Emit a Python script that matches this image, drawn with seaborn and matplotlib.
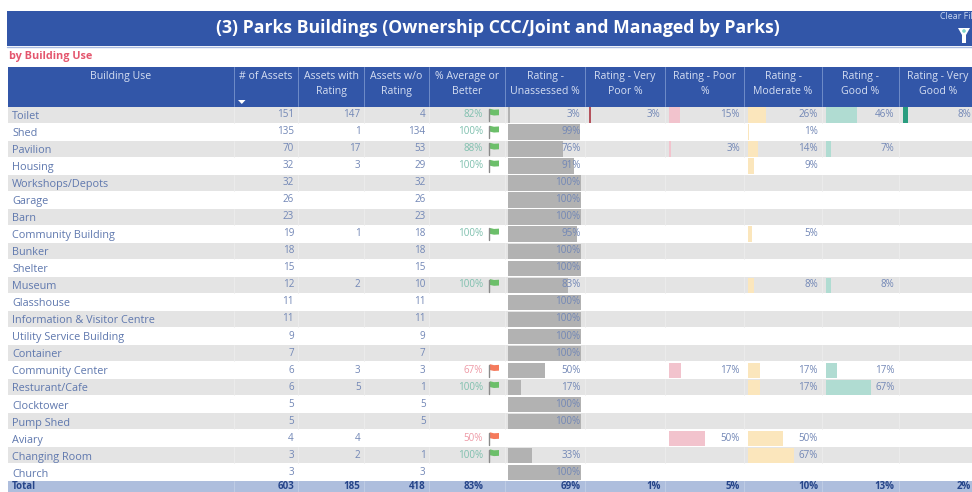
import numpy as np
import pandas as pd
import matplotlib
matplotlib.use("Agg")
import matplotlib.pyplot as plt
from matplotlib.patches import Rectangle, Polygon, Circle
import seaborn as sns

sns.set_theme(style="white")
plt.rcParams['font.family'] = ['Open Sans', 'DejaVu Sans']

nan = float('nan')

building_use = ["Toilet", "Shed", "Pavilion", "Housing", "Workshops/Depots", "Garage", "Barn",
                "Community Building", "Bunker", "Shelter", "Museum", "Glasshouse",
                "Information & Visitor Centre", "Utility Service Building", "Container",
                "Community Center", "Resturant/Cafe", "Clocktower", "Pump Shed", "Aviary",
                "Changing Room", "Church"]
n_assets = [151, 135, 70, 32, 32, 26, 23, 19, 18, 15, 12, 11, 11, 9, 7, 6, 6, 5, 5, 4, 3, 3]
with_rating = [147, 1, 17, 3, nan, nan, nan, 1, nan, nan, 2, nan, nan, nan, nan, 3, 5, nan, nan, 4, 2, nan]
without_rating = [4, 134, 53, 29, 32, 26, 23, 18, 18, 15, 10, 11, 11, 9, 7, 3, 1, 5, 5, nan, 1, 3]
avg_or_better = [82, 100, 88, 100, nan, nan, nan, 100, nan, nan, 100, nan, nan, nan, nan, 67, 100, nan, nan, 50, 100, nan]
unassessed = [3, 99, 76, 91, 100, 100, 100, 95, 100, 100, 83, 100, 100, 100, 100, 50, 17, 100, 100, nan, 33, 100]
very_poor = [3, nan, nan, nan, nan, nan, nan, nan, nan, nan, nan, nan, nan, nan, nan, nan, nan, nan, nan, nan, nan, nan]
poor = [15, nan, 3, nan, nan, nan, nan, nan, nan, nan, nan, nan, nan, nan, nan, 17, nan, nan, nan, 50, nan, nan]
moderate = [26, 1, 14, 9, nan, nan, nan, 5, nan, nan, 8, nan, nan, nan, nan, 17, 17, nan, nan, 50, 67, nan]
good = [46, nan, 7, nan, nan, nan, nan, nan, nan, nan, 8, nan, nan, nan, nan, 17, 67, nan, nan, nan, nan, nan]
very_good = [8, nan, nan, nan, nan, nan, nan, nan, nan, nan, nan, nan, nan, nan, nan, nan, nan, nan, nan, nan, nan, nan]

headers = ["Building Use", "# of Assets", "Assets with\nRating", "Assets w/o\nRating",
           "% Average or\nBetter", "Rating -\nUnassessed %", "Rating - Very\nPoor %",
           "Rating - Poor\n%", "Rating -\nModerate %", "Rating -\nGood %", "Rating - Very\nGood %"]
totals = ["Total", "603", "185", "418", "83%", "69%", "1%", "5%", "10%", "13%", "2%"]

df = pd.DataFrame({"use": building_use, "Unassessed": unassessed, "VeryPoor": very_poor, "Poor": poor,
                   "Moderate": moderate, "Good": good, "VeryGood": very_good})

# layout, in pixels of the 972x492 picture
W, H = 972, 492
edges = [8, 234, 298, 364, 429, 505, 585, 665, 744, 822, 899, 978]
right_txt = [0, 294, 360.5, 425.5, 483, 580.5, 660.7, 740, 818, 894.5, 971]
top_row, row_h = 106.5, 17.03
n = len(building_use)

BLUE = "#3256A8"
TXT = "#7287B6"
GREY = "#E4E4E4"

fig = plt.figure(figsize=(W / 100, H / 100), dpi=100, facecolor="white")
ax = fig.add_axes([0, 0, 1, 1])
ax.set_xlim(0, W)
ax.set_ylim(H, 0)
ax.axis("off")

# title band
ax.add_patch(Rectangle((7, 11), W, 35, color=BLUE, lw=0))
ax.plot([7, W], [46.5, 46.5], color="#A9BBE0", lw=1)
ax.text(498, 28, "(3) Parks Buildings (Ownership CCC/Joint and Managed by Parks)", color="white",
        fontsize=12.7, fontweight="bold", ha="center", va="center")
ax.text(9, 56.5, "by Building Use", color="#E4566E", fontsize=7.8, fontweight="bold", va="center")
ax.text(940, 16.5, "Clear Filters", color="#C9D6F0", fontsize=6.4, va="center", clip_on=True)
# filter icon
ax.add_patch(Polygon([(958, 28), (970, 28), (966, 35), (966, 43), (962, 43), (962, 35)], color="white", lw=0))
ax.add_patch(Circle((964, 31), 1.8, color="#7FD6C8", lw=0))

# table header
ax.add_patch(Rectangle((8, 67), W, 39.5, color=BLUE, lw=0))
for e in edges[1:-1]:
    ax.plot([e, e], [67, 106], color="#6F8CC8", lw=0.7)
for i, h in enumerate(headers):
    cx = (edges[i] + edges[i + 1]) / 2
    if i == 10:
        cx = 938
    for j, line in enumerate(h.split("\n")):
        ax.text(cx, 76.5 + j * 15.3, line, color="#D5DEF2", fontsize=7.6, ha="center", va="center")
ax.add_patch(Polygon([(238, 100), (245.5, 100), (241.8, 104)], color="white", lw=0))

# row stripes
for i in range(n):
    y = top_row + i * row_h
    if i % 2 == 0:
        ax.add_patch(Rectangle((8, y), W, row_h - 0.7, color=GREY, lw=0))
        for e in edges[1:-1]:
            ax.plot([e, e], [y, y + row_h - 0.7], color="#EDEDED", lw=0.6)

# bars, one small axes per rating column so the percent scale does the work
bar_cols = [("Unassessed", 508.3, 72.5, "#B2B2B2"), ("VeryPoor", 588.5, 72, "#B5525C"),
            ("Poor", 668.6, 72.7, "#F2C3CD"), ("Moderate", 748.3, 68.6, "#FBE6BC"),
            ("Good", 826, 67.6, "#B0DCD2"), ("VeryGood", 902.6, 67, "#2A9D7F")]
for name, x0, w, col in bar_cols:
    a = fig.add_axes([x0 / W, 1 - (top_row + n * row_h) / H, w / W, n * row_h / H])
    a.patch.set_alpha(0)
    sns.barplot(data=df, y="use", x=name, color=col, width=0.91, saturation=1, ax=a, errorbar=None,
                order=building_use, linewidth=0)
    a.set_xlim(0, 100)
    a.set_ylim(n - 0.5, -0.5)
    a.axis("off")

# text on top of the bars
top = fig.add_axes([0, 0, 1, 1])
top.set_xlim(0, W)
top.set_ylim(H, 0)
top.axis("off")
top.patch.set_alpha(0)


def fmt(v, pct=False):
    if v != v:
        return ""
    return f"{int(v)}%" if pct else str(int(v))


def flag(x, y, colour):
    top.plot([x, x], [y - 5, y + 7], color="#8A8A8A", lw=1)
    top.add_patch(Polygon([(x + 0.8, y - 5.5), (x + 5, y - 4.5), (x + 10, y - 4.8), (x + 10, y + 1),
                           (x + 5, y + 1.3), (x + 0.8, y + 0.4)], color=colour, lw=0))


for i in range(n):
    y = top_row + (i + 0.5) * row_h
    top.text(12, y + 1.5, building_use[i], color="#5F78AE", fontsize=7.8, va="center")
    cols = [n_assets, with_rating, without_rating]
    for c, vals in enumerate(cols):
        top.text(right_txt[c + 1], y - 0.4, fmt(vals[i]), color=TXT, fontsize=7.1, ha="right", va="center")
    a_val = avg_or_better[i]
    if a_val == a_val:
        good_flag = a_val >= 80
        top.text(right_txt[4], y - 0.4, fmt(a_val, True), color="#7FC0AE" if good_flag else "#EE9AA6",
                 fontsize=7.1, ha="right", va="center")
        flag(489, y - 0.8, "#6CBF6A" if good_flag else "#F57A5C")
    for c, vals in zip(range(5, 11), [unassessed, very_poor, poor, moderate, good, very_good]):
        top.text(right_txt[c], y - 0.4, fmt(vals[i], True), color=TXT, fontsize=7.1, ha="right", va="center")

# total row
ty = top_row + n * row_h
top.add_patch(Rectangle((8, ty), W, H - ty + 2, color="#AEBEDD", lw=0))
for e in edges[1:-1]:
    top.plot([e, e], [ty, H], color="#C3CFE6", lw=0.6)
top.text(12, ty + 5.6, totals[0], color="#26458A", fontsize=7.0, fontweight="bold", va="center")
for c in range(1, 11):
    top.text(right_txt[c], ty + 5.6, totals[c], color="#26458A", fontsize=7.0, fontweight="bold",
             ha="right", va="center")

fig.savefig("out.png", dpi=100)
